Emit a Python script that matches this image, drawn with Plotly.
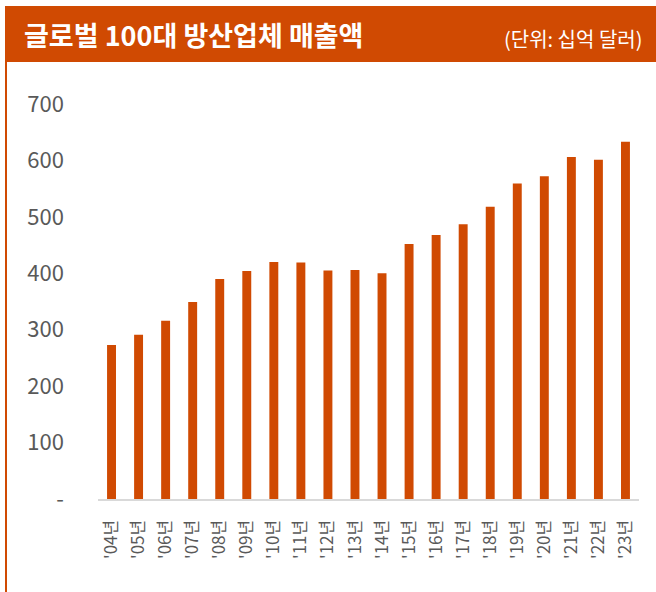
import plotly.graph_objects as go

# 글로벌 100대 방산업체 매출액 (단위: 십억 달러)
years = ["'04년", "'05년", "'06년", "'07년", "'08년", "'09년", "'10년", "'11년", "'12년", "'13년",
         "'14년", "'15년", "'16년", "'17년", "'18년", "'19년", "'20년", "'21년", "'22년", "'23년"]
sales = [273, 291, 316, 349, 390, 404, 420, 419, 405, 406,
         400, 452, 468, 487, 518, 559, 572, 606, 601, 633]
y_ticks = [0, 100, 200, 300, 400, 500, 600, 700]
y_ticktext = ["-", "100", "200", "300", "400", "500", "600", "700"]

ORANGE = "#D04A02"
GRAY = "#595959"
FONT = "Noto Sans CJK KR, Noto Sans, sans-serif"

W, H = 656, 592
L, R, T, B = 98, 17, 104, 93
PW, PH = W - L - R, H - T - B


def px(x):
    return (x - L) / PW


def py(y):
    return (H - B - y) / PH


fig = go.Figure(go.Bar(
    x=years, y=sales,
    marker=dict(color=ORANGE, line=dict(width=0)),
    hovertemplate="%{x}: %{y}<extra></extra>",
))

# title bar and left border
fig.add_shape(type="rect", xref="paper", yref="paper",
              x0=px(5), x1=px(656), y0=py(62), y1=py(6),
              fillcolor=ORANGE, line=dict(width=0), layer="below")
fig.add_shape(type="rect", xref="paper", yref="paper",
              x0=px(5), x1=px(7), y0=py(592), y1=py(62),
              fillcolor=ORANGE, line=dict(width=0), layer="below")

fig.add_annotation(xref="paper", yref="paper", x=px(22), y=py(35),
                   xanchor="left", yanchor="middle", showarrow=False,
                   text="<b>글로벌 100대 방산업체 매출액</b>",
                   font=dict(family=FONT, size=27, color="white"))
fig.add_annotation(xref="paper", yref="paper", x=px(644), y=py(38),
                   xanchor="right", yanchor="middle", showarrow=False,
                   text="(단위: 십억 달러)",
                   font=dict(family=FONT, size=20, color="white"))

fig.update_layout(
    width=W, height=H,
    margin=dict(l=L, r=R, t=T, b=B, pad=0),
    paper_bgcolor="white", plot_bgcolor="white",
    bargap=0.67,
    showlegend=False,
    font=dict(family=FONT, color=GRAY),
    xaxis=dict(
        type="category", range=[-0.5, 19.5],
        tickangle=-90, tickfont=dict(size=17, color=GRAY),
        showline=True, linecolor="#D9D9D9", linewidth=2,
        showgrid=False, ticks="", ticklabelstandoff=12,
    ),
    yaxis=dict(
        range=[0, 700], tickvals=y_ticks, ticktext=y_ticktext,
        tickfont=dict(size=22, color=GRAY),
        showgrid=False, zeroline=False, showline=False,
        ticks="", ticklabelstandoff=33,
    ),
)

fig.write_html("out.html", config={"displayModeBar": False},
               post_script="document.body.style.margin='0';")
